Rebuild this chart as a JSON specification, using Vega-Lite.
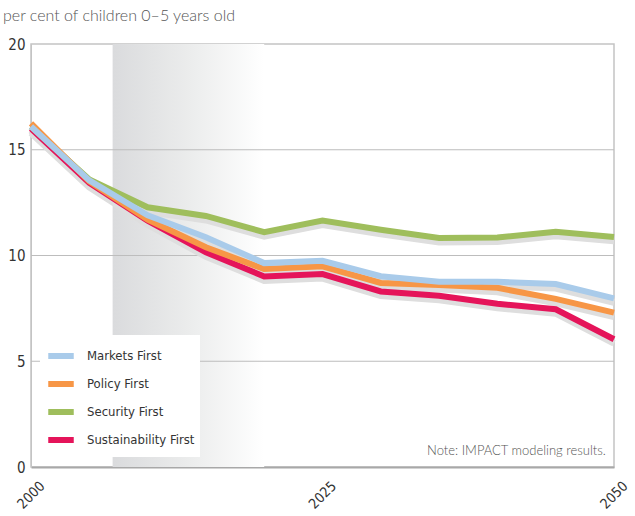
{
  "$schema": "https://vega.github.io/schema/vega-lite/v6.json",
  "width": 583,
  "height": 423,
  "autosize": "none",
  "padding": {"left": 31, "top": 44, "right": 21, "bottom": 49},
  "background": "white",
  "config": {"view": {"stroke": "#c4c4c4", "strokeWidth": 1.5}},
  "title": {"text": "per cent of children 0–5 years old", "anchor": "start", "frame": "group", "dx": -28, "offset": 13, "font": "Lato", "fontSize": 16, "fontWeight": 300, "color": "#555555"},
  "datasets": {
    "series": [
      {"year": 2000, "value": 16.0, "scenario": "Sustainability First"},
      {"year": 2005, "value": 13.43, "scenario": "Sustainability First"},
      {"year": 2010, "value": 11.65, "scenario": "Sustainability First"},
      {"year": 2015, "value": 10.15, "scenario": "Sustainability First"},
      {"year": 2020, "value": 9.01, "scenario": "Sustainability First"},
      {"year": 2025, "value": 9.12, "scenario": "Sustainability First"},
      {"year": 2030, "value": 8.3, "scenario": "Sustainability First"},
      {"year": 2035, "value": 8.1, "scenario": "Sustainability First"},
      {"year": 2040, "value": 7.72, "scenario": "Sustainability First"},
      {"year": 2045, "value": 7.46, "scenario": "Sustainability First"},
      {"year": 2050, "value": 6.04, "scenario": "Sustainability First"},
      {"year": 2000, "value": 16.1, "scenario": "Security First"},
      {"year": 2005, "value": 13.6, "scenario": "Security First"},
      {"year": 2010, "value": 12.28, "scenario": "Security First"},
      {"year": 2015, "value": 11.87, "scenario": "Security First"},
      {"year": 2020, "value": 11.1, "scenario": "Security First"},
      {"year": 2025, "value": 11.65, "scenario": "Security First"},
      {"year": 2030, "value": 11.22, "scenario": "Security First"},
      {"year": 2035, "value": 10.83, "scenario": "Security First"},
      {"year": 2040, "value": 10.85, "scenario": "Security First"},
      {"year": 2045, "value": 11.12, "scenario": "Security First"},
      {"year": 2050, "value": 10.88, "scenario": "Security First"},
      {"year": 2000, "value": 16.25, "scenario": "Policy First"},
      {"year": 2005, "value": 13.5, "scenario": "Policy First"},
      {"year": 2010, "value": 11.7, "scenario": "Policy First"},
      {"year": 2015, "value": 10.39, "scenario": "Policy First"},
      {"year": 2020, "value": 9.36, "scenario": "Policy First"},
      {"year": 2025, "value": 9.49, "scenario": "Policy First"},
      {"year": 2030, "value": 8.7, "scenario": "Policy First"},
      {"year": 2035, "value": 8.6, "scenario": "Policy First"},
      {"year": 2040, "value": 8.47, "scenario": "Policy First"},
      {"year": 2045, "value": 7.95, "scenario": "Policy First"},
      {"year": 2050, "value": 7.3, "scenario": "Policy First"},
      {"year": 2000, "value": 16.1, "scenario": "Markets First"},
      {"year": 2005, "value": 13.55, "scenario": "Markets First"},
      {"year": 2010, "value": 11.9, "scenario": "Markets First"},
      {"year": 2015, "value": 10.86, "scenario": "Markets First"},
      {"year": 2020, "value": 9.64, "scenario": "Markets First"},
      {"year": 2025, "value": 9.75, "scenario": "Markets First"},
      {"year": 2030, "value": 9.02, "scenario": "Markets First"},
      {"year": 2035, "value": 8.76, "scenario": "Markets First"},
      {"year": 2040, "value": 8.76, "scenario": "Markets First"},
      {"year": 2045, "value": 8.65, "scenario": "Markets First"},
      {"year": 2050, "value": 7.97, "scenario": "Markets First"}
    ],
    "band": [{"start": 2007, "end": 2020, "low": 0, "high": 20}],
    "grid": [{"v": 5}, {"v": 10}, {"v": 15}],
    "note": [{"year": 2049.3, "value": 0.75, "text": "Note: IMPACT modeling results."}]
  },
  "layer": [
    {
      "data": {"name": "band"},
      "mark": {"type": "rect", "fill": {"gradient": "linear", "x1": 0, "x2": 1, "y1": 0, "y2": 0, "stops": [{"offset": 0, "color": "#dadbdd"}, {"offset": 0.5, "color": "#ebecec"}, {"offset": 1, "color": "#ffffff"}]}},
      "encoding": {
        "x": {"field": "start", "type": "quantitative", "scale": {"domain": [2000, 2050], "nice": false, "zero": false}, "axis": {"values": [2000, 2025, 2050], "format": "d", "title": null, "grid": false, "ticks": false, "domainColor": "#a8a8a8", "domainWidth": 2, "labelAngle": -45, "labelAlign": "center", "labelBaseline": "middle", "labelPadding": 28, "labelFont": "DejaVu Sans Condensed, Liberation Sans, sans-serif", "labelFontSize": 14, "labelColor": "#333333", "labelBound": false, "labelFlush": false, "labelOverlap": false}},
        "x2": {"field": "end"},
        "y": {"field": "low", "type": "quantitative", "scale": {"domain": [0, 20], "nice": false}, "axis": {"values": [0, 5, 10, 15, 20], "title": null, "grid": false, "ticks": false, "domainColor": "#c4c4c4", "labelPadding": 6, "labelFont": "DejaVu Sans Condensed, Liberation Sans, sans-serif", "labelFontSize": 15, "labelColor": "#333333"}},
        "y2": {"field": "high"}
      }
    },
    {
      "data": {"name": "grid"},
      "mark": {"type": "rule", "color": "#bdbdbd", "strokeWidth": 1.2},
      "encoding": {"y": {"field": "v", "type": "quantitative"}}
    },
    {
      "data": {"name": "series"},
      "mark": {"type": "line", "color": "#dedede", "strokeWidth": 7, "yOffset": 4, "strokeJoin": "miter"},
      "encoding": {
        "x": {"field": "year", "type": "quantitative"},
        "y": {"field": "value", "type": "quantitative"},
        "detail": {"field": "scenario"}
      }
    },
    {
      "data": {"name": "series"},
      "mark": {"type": "line", "strokeWidth": 6, "strokeJoin": "miter"},
      "encoding": {
        "x": {"field": "year", "type": "quantitative"},
        "y": {"field": "value", "type": "quantitative"},
        "color": {"field": "scenario", "type": "nominal", "scale": {"domain": ["Markets First", "Policy First", "Security First", "Sustainability First"], "range": ["#a9cbea", "#f79646", "#9fbe5c", "#e5145a"]}, "legend": {"title": null, "orient": "none", "legendX": 9, "legendY": 291, "fillColor": "white", "padding": 5, "symbolType": "stroke", "symbolStrokeWidth": 6, "symbolSize": 650, "rowPadding": 0, "labelFont": "DejaVu Sans Condensed, Liberation Sans, sans-serif", "labelFontSize": 13, "labelColor": "#333333", "labelOffset": 10}}
      }
    },
    {
      "data": {"name": "note"},
      "mark": {"type": "text", "align": "right", "baseline": "middle", "font": "Lato", "fontSize": 13, "fontWeight": 300, "color": "#555555"},
      "encoding": {
        "x": {"field": "year", "type": "quantitative"},
        "y": {"field": "value", "type": "quantitative"},
        "text": {"field": "text"}
      }
    }
  ]
}
